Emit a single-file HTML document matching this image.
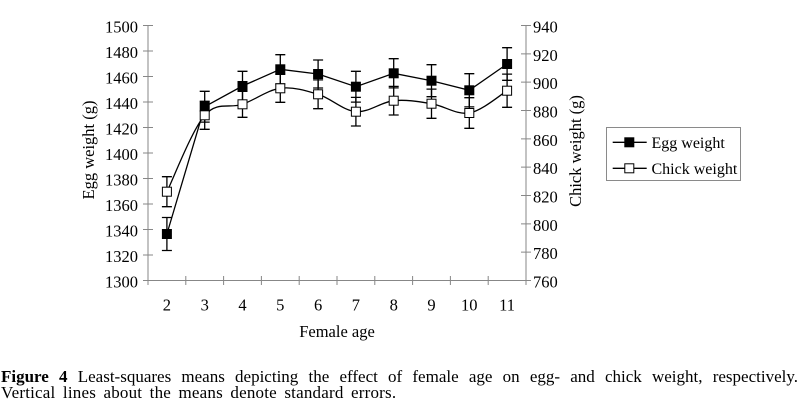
<!DOCTYPE html>
<html>
<head>
<meta charset="utf-8">
<style>
  html,body{margin:0;padding:0;background:#fff;}
  body{width:802px;height:406px;position:relative;overflow:hidden;font-family:"Liberation Serif",serif;color:#000;}
  svg{position:absolute;left:0;top:0;}
  .cap{position:absolute;left:1px;font-family:"Liberation Serif",serif;font-size:17px;line-height:16px;white-space:nowrap;}
  #l1{top:369px;width:797px;text-align:justify;text-align-last:justify;white-space:normal;}
  #l2{top:385px;word-spacing:3px;letter-spacing:0.2px;}
</style>
</head>
<body>
<svg width="802" height="406" viewBox="0 0 802 406" xmlns="http://www.w3.org/2000/svg">
  <g stroke="#878787" stroke-width="1" fill="none">
    <line x1="148" y1="25.5" x2="148" y2="280.5"/>
    <line x1="526" y1="25.5" x2="526" y2="280.5"/>
    <line x1="148" y1="280.5" x2="526" y2="280.5"/>
    <path d="M143,25.5H153M143,51H153M143,76.5H153M143,102H153M143,127.5H153M143,153H153M143,178.5H153M143,204H153M143,229.5H153M143,255H153M143,280.5H153"/>
    <path d="M521,25.5H531M521,53.83H531M521,82.17H531M521,110.5H531M521,138.83H531M521,167.17H531M521,195.5H531M521,223.83H531M521,252.17H531M521,280.5H531"/>
    <path d="M148,276V285M185.8,276V285M223.6,276V285M261.4,276V285M299.2,276V285M337,276V285M374.8,276V285M412.6,276V285M450.4,276V285M488.2,276V285M526,276V285"/>
  </g>

  <g font-family="Liberation Serif, serif" font-size="16.5" fill="#000">
    <g text-anchor="end">
      <text x="138" y="32.5">1500</text>
      <text x="138" y="58">1480</text>
      <text x="138" y="83.5">1460</text>
      <text x="138" y="109">1440</text>
      <text x="138" y="134.5">1420</text>
      <text x="138" y="160">1400</text>
      <text x="138" y="185.5">1380</text>
      <text x="138" y="211">1360</text>
      <text x="138" y="236.5">1340</text>
      <text x="138" y="262">1320</text>
      <text x="138" y="287.5">1300</text>
    </g>
    <g text-anchor="start">
      <text x="533" y="32.5">940</text>
      <text x="533" y="60.8">920</text>
      <text x="533" y="89.2">900</text>
      <text x="533" y="117.5">880</text>
      <text x="533" y="145.8">860</text>
      <text x="533" y="174.2">840</text>
      <text x="533" y="202.5">820</text>
      <text x="533" y="230.8">800</text>
      <text x="533" y="259.2">780</text>
      <text x="533" y="287.5">760</text>
    </g>
    <g text-anchor="middle">
      <text x="166.9" y="310.5">2</text>
      <text x="204.7" y="310.5">3</text>
      <text x="242.5" y="310.5">4</text>
      <text x="280.3" y="310.5">5</text>
      <text x="318.1" y="310.5">6</text>
      <text x="355.9" y="310.5">7</text>
      <text x="393.7" y="310.5">8</text>
      <text x="431.5" y="310.5">9</text>
      <text x="469.3" y="310.5">10</text>
      <text x="507.1" y="310.5">11</text>
      <text x="337" y="337" font-size="16.5">Female age</text>
      <text transform="translate(94,150) rotate(-90)" font-size="16.5">Egg weight (g)</text>
      <text transform="translate(581,151) rotate(-90)" font-size="16.5">Chick weight (g)</text>
    </g>
  </g>

  <g stroke="#000" stroke-width="1.3" fill="none">
    <path d="M166.9,217.5V250.5M161.9,217.5H171.9M161.9,250.5H171.9
             M204.7,91.3V122.1M199.7,91.3H209.7M199.7,122.1H209.7
             M242.5,71.3V100.7M237.5,71.3H247.5M237.5,100.7H247.5
             M280.3,54.7V83.9M275.3,54.7H285.3M275.3,83.9H285.3
             M318.1,60V88M313.1,60H323.1M313.1,88H323.1
             M355.9,71.3V102.1M350.9,71.3H360.9M350.9,102.1H360.9
             M393.7,58.7V87.9M388.7,58.7H398.7M388.7,87.9H398.7
             M431.5,64.7V96.7M426.5,64.7H436.5M426.5,96.7H436.5
             M469.3,73.7V106.9M464.3,73.7H474.3M464.3,106.9H474.3
             M507.1,47.7V80.3M502.1,47.7H512.1M502.1,80.3H512.1"/>
    <polyline points="166.9,234 204.7,106.7 242.5,86 280.3,69.3 318.1,74 355.9,86.7 393.7,73.3 431.5,80.7 469.3,90.3 507.1,64"/>
  </g>
  <g fill="#000">
    <rect x="161.9" y="229" width="10" height="10"/>
    <rect x="199.7" y="101.7" width="10" height="10"/>
    <rect x="237.5" y="81" width="10" height="10"/>
    <rect x="275.3" y="64.3" width="10" height="10"/>
    <rect x="313.1" y="69" width="10" height="10"/>
    <rect x="350.9" y="81.7" width="10" height="10"/>
    <rect x="388.7" y="68.3" width="10" height="10"/>
    <rect x="426.5" y="75.7" width="10" height="10"/>
    <rect x="464.3" y="85.3" width="10" height="10"/>
    <rect x="502.1" y="59" width="10" height="10"/>
  </g>

  <g stroke="#000" stroke-width="1.3" fill="none">
    <path d="M166.9,176.7V206.7M161.9,176.7H171.9M161.9,206.7H171.9
             M204.7,101.3V129.3M199.7,101.3H209.7M199.7,129.3H209.7
             M242.5,91.3V117.3M237.5,91.3H247.5M237.5,117.3H247.5
             M280.3,74.3V102.3M275.3,74.3H285.3M275.3,102.3H285.3
             M318.1,79.9V108.7M313.1,79.9H323.1M313.1,108.7H323.1
             M355.9,97.4V126M350.9,97.4H360.9M350.9,126H360.9
             M393.7,86.4V115M388.7,86.4H398.7M388.7,115H398.7
             M431.5,89.1V118.3M426.5,89.1H436.5M426.5,118.3H436.5
             M469.3,97.7V128.3M464.3,97.7H474.3M464.3,128.3H474.3
             M507.1,74.1V107.3M502.1,74.1H512.1M502.1,107.3H512.1"/>
    <path d="M166.9,191.7 C173.2,178.97 192.1,129.87 204.7,115.3
             C217.3,100.73 229.9,108.8 242.5,104.3
             C255.1,99.8 267.7,89.97 280.3,88.3
             C292.9,86.63 305.5,90.4 318.1,94.3
             C330.7,98.2 343.3,110.63 355.9,111.7
             C368.5,112.77 381.1,102.03 393.7,100.7
             C406.3,99.37 418.9,101.65 431.5,103.7
             C444.1,105.75 456.7,115.17 469.3,113
             C481.9,110.83 500.8,94.42 507.1,90.7"/>
  </g>
  <g fill="#fff" stroke="#000" stroke-width="1">
    <rect x="162.4" y="187.2" width="9" height="9"/>
    <rect x="200.2" y="110.8" width="9" height="9"/>
    <rect x="238" y="99.8" width="9" height="9"/>
    <rect x="275.8" y="83.8" width="9" height="9"/>
    <rect x="313.6" y="89.8" width="9" height="9"/>
    <rect x="351.4" y="107.2" width="9" height="9"/>
    <rect x="389.2" y="96.2" width="9" height="9"/>
    <rect x="427" y="99.2" width="9" height="9"/>
    <rect x="464.8" y="108.5" width="9" height="9"/>
    <rect x="502.6" y="86.2" width="9" height="9"/>
  </g>

  <rect x="606.5" y="127.5" width="134" height="53" fill="#fff" stroke="#8a8a8a" stroke-width="1"/>
  <g stroke="#000" stroke-width="1.3">
    <line x1="612.7" y1="142.3" x2="646.7" y2="142.3"/>
    <line x1="612.7" y1="168.3" x2="646.7" y2="168.3"/>
  </g>
  <rect x="624.3" y="137.3" width="10" height="10" fill="#000"/>
  <rect x="624.8" y="163.8" width="9" height="9" fill="#fff" stroke="#000" stroke-width="1"/>
  <g font-family="Liberation Serif, serif" font-size="16" fill="#000">
    <text x="651.5" y="147.8">Egg weight</text>
    <text x="651.5" y="173.8">Chick weight</text>
  </g>
</svg>

<div class="cap" id="l1"><b>Figure 4</b> Least-squares means depicting the effect of female age on egg- and chick weight, respectively.</div>
<div class="cap" id="l2">Vertical lines about the means denote standard errors.</div>
</body>
</html>
